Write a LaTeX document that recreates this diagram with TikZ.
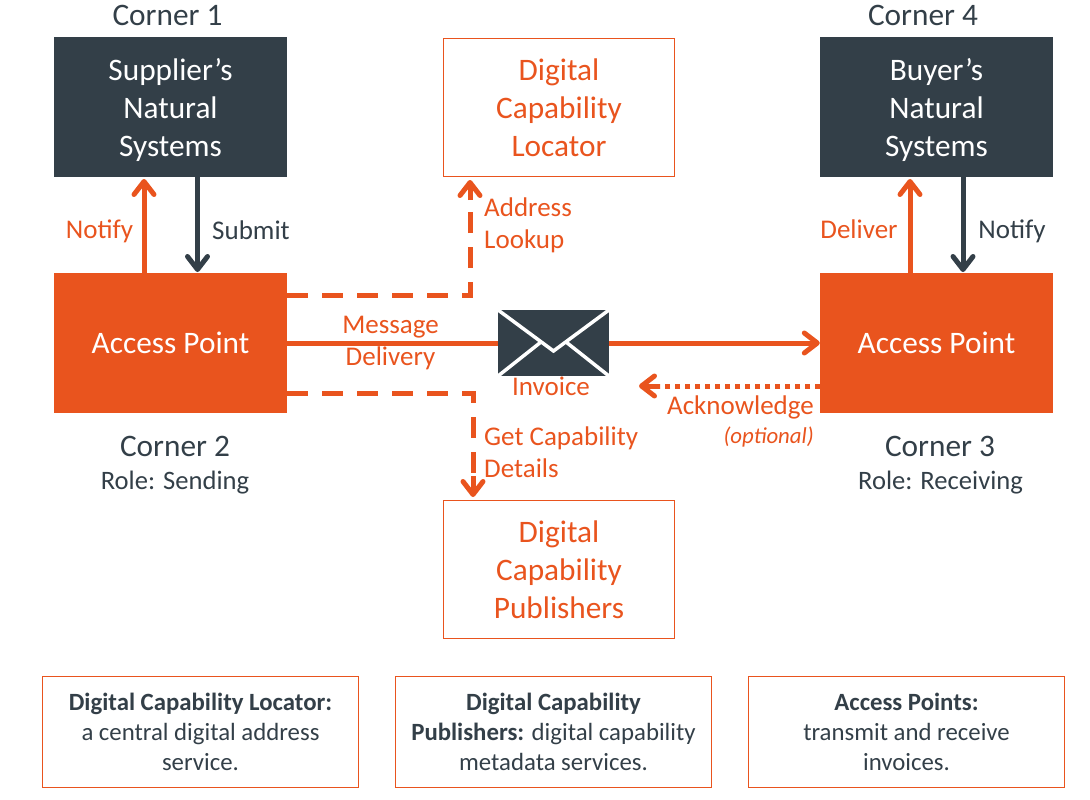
\documentclass[tikz,border=0pt]{standalone}
\usepackage{fontspec}
\setmainfont{Carlito}
\usetikzlibrary{arrows.meta}
\definecolor{peppolorange}{HTML}{E9541E}
\definecolor{peppoldark}{HTML}{333F48}
\begin{document}
\begin{tikzpicture}[x=1pt, y=-1pt, >={Straight Barb[round,length=13pt,width=20pt]},
    big text/.style={font=\fontsize{31.3}{38}\selectfont, align=center},
    label text/.style={font=\fontsize{27}{32}\selectfont, align=left, text=peppolorange},
    corner text/.style={font=\fontsize{31.3}{34}\selectfont, text=peppoldark},
    role text/.style={font=\fontsize{26.6}{30}\selectfont, text=peppoldark},
    system node/.style={big text, fill=peppoldark, text=white, minimum width=233pt, minimum height=140pt, inner sep=0pt},
    access node/.style={big text, fill=peppolorange, text=white, minimum width=233pt, minimum height=140pt, inner sep=0pt},
    service node/.style={big text, draw=peppolorange, line width=1.9pt, text=peppolorange, minimum width=231pt, minimum height=138pt, inner sep=0pt},
    note node/.style={draw=peppolorange, line width=1.9pt, text=peppoldark, font=\fontsize{24.8}{30}\selectfont, align=center, minimum width=316pt, minimum height=111pt, inner sep=0pt},
    orange line/.style={draw=peppolorange, line width=5pt},
    dark line/.style={draw=peppoldark, line width=5pt},
    flap line/.style={draw=white, line width=3.5pt}]
    \useasboundingbox (0,0) rectangle (1090,800);

    % boxes
    \node[system node] (supplier) at (170.5,107) {Supplier’s\\Natural\\\smash{Systems}};
    \node[system node] (buyer) at (936.5,107) {Buyer’s\\Natural\\\smash{Systems}};
    \node[access node] (ap2) at (170.5,343) {\raisebox{-1pt}{Access Point}};
    \node[access node] (ap3) at (936.5,343) {\raisebox{-1pt}{Access Point}};
    \node[service node] (locator) at (559,107.5) {Digital\\Capability\\Locator};
    \node[service node] (publishers) at (559,569.5) {Digital\\Capability\\Publishers};
    \node[note node] (notea) at (200.5,732) {\textbf{Digital Capability Locator:}\\a central digital address\\service.};
    \node[note node] (noteb) at (553.5,732) {\textbf{Digital Capability}\\\textbf{Publishers:} digital capability\\metadata services.};
    \node[note node] (notec) at (906.5,732) {\textbf{Access Points:}\\transmit and receive\\invoices.};

    % envelope
    \node[fill=peppoldark, minimum width=111pt, minimum height=66pt, inner sep=0pt] (envelope) at (553.5,343) {};
    \coordinate (fold) at (553.5,351);
    \coordinate (flapl) at (541,342);
    \coordinate (flapr) at (566,342);
    \draw[flap line, line join=miter] (envelope.north west) -- (fold) -- (envelope.north east);
    \draw[flap line] (envelope.south west) -- (flapl);
    \draw[flap line] (envelope.south east) -- (flapr);

    % corner captions
    \node[corner text] (corner1) at (167.5,15.5) {Corner 1};
    \node[corner text] (corner4) at (923,15.5) {Corner 4};
    \node[corner text] (corner2) at (175,446.5) {Corner 2};
    \node[role text] (role2) at (175,483) {Role: Sending};
    \node[corner text] (corner3) at (940,446.5) {Corner 3};
    \node[role text] (role3) at (940.5,483) {Role: Receiving};

    % free ends of the connectors
    \coordinate (n1a) at (144,273);
    \coordinate (n1b) at (144,179);
    \coordinate (s1a) at (197.5,177);
    \coordinate (s1b) at (197.5,272);
    \coordinate (d4a) at (910,273);
    \coordinate (d4b) at (910,179);
    \coordinate (n4a) at (963,177);
    \coordinate (n4b) at (963,272);
    \coordinate (lookupa) at (287,295);
    \coordinate (lookupb) at (470,295);
    \coordinate (lookupc) at (470,200);
    \coordinate (lookupd) at (470,180);
    \coordinate (detailsa) at (287,393);
    \coordinate (detailsb) at (473,393);
    \coordinate (detailsc) at (473,476);
    \coordinate (detailsd) at (473,497);
    \coordinate (acka) at (820,386);
    \coordinate (ackb) at (660,386);
    \coordinate (ackc) at (639,386);

    \draw[orange line, ->] (n1a) -- (n1b);
    \draw[dark line, ->] (s1a) -- (s1b);
    \draw[orange line, ->] (d4a) -- (d4b);
    \draw[dark line, ->] (n4a) -- (n4b);
    \draw[orange line] (ap2.east) -- (envelope.west);
    \draw[orange line, ->] (envelope.east) -- (ap3.west);
    \draw[orange line, dash pattern=on 21pt off 14pt] (lookupa) -- (lookupb) -- (lookupc);
    \draw[orange line, ->] (lookupc) -- (lookupd);
    \draw[orange line, dash pattern=on 21pt off 14pt] (detailsa) -- (detailsb) -- (detailsc);
    \draw[orange line, ->] (detailsc) -- (detailsd);
    \draw[orange line, dash pattern=on 5pt off 5pt] (acka) -- (ackb);
    \draw[orange line, ->] (ackb) -- (ackc);

    % connector labels
    \node[label text] (notifya) at (99.5,231) {Notify};
    \node[label text, text=peppoldark] (submit) at (251,230) {Submit};
    \node[label text] (deliver) at (859,229) {Deliver};
    \node[label text, text=peppoldark] (notifyb) at (1012,231) {Notify};
    \node[label text, anchor=west, inner sep=0pt] (lookup) at (484,225.5) {Address\\Lookup};
    \node[label text, align=center] (message) at (390.5,343) {Message\\Delivery};
    \node[label text] (invoice) at (551,386) {Invoice};
    \node[label text, anchor=west, inner sep=0pt] (details) at (484,452.5) {Get Capability\\Details};
    \node[label text, anchor=east, inner sep=0pt] (acknowledge) at (814,407) {Acknowledge};
    \node[label text, anchor=east, inner sep=0pt, font=\fontsize{22.8}{24}\selectfont\itshape] (optional) at (814,437) {(optional)};
\end{tikzpicture}
\end{document}
